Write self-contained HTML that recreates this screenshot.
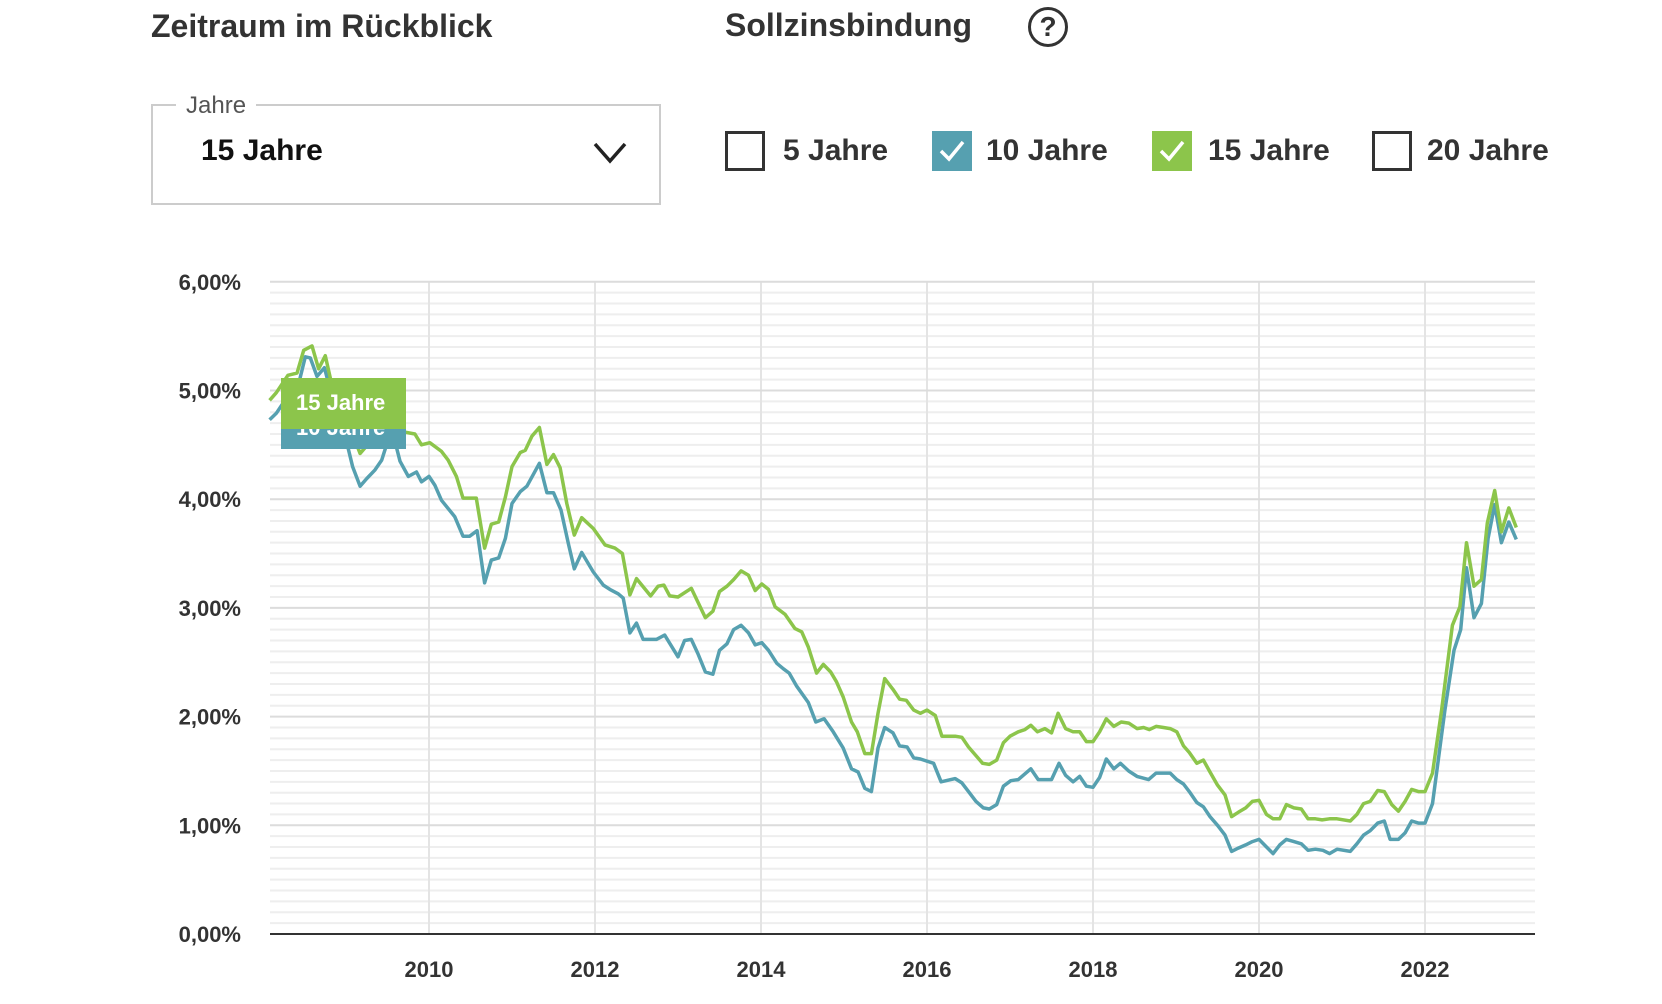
<!DOCTYPE html>
<html><head><meta charset="utf-8"><style>
html,body{margin:0;padding:0;background:#fff;width:1662px;height:1004px;overflow:hidden;font-family:"Liberation Sans",sans-serif;color:#333}
.abs{position:absolute}
.h{font-size:32px;font-weight:bold;color:#333}
.cb{width:34px;height:34px;border:3px solid #333;box-sizing:content-box}
.cbl{font-size:30px;font-weight:bold;color:#333}
</style></head><body>
<div class="abs h" style="left:151px;top:8px">Zeitraum im Rückblick</div>
<div class="abs h" style="left:725px;top:7px">Sollzinsbindung</div>
<div class="abs" style="left:1028px;top:7px;width:34px;height:34px;border:3px solid #333;border-radius:50%;text-align:center;font-size:28px;font-weight:bold;line-height:34px">?</div>

<div class="abs" style="left:151px;top:104px;width:506px;height:97px;border:2px solid #ccc"></div>
<div class="abs" style="left:176px;top:92px;padding:0 10px;background:#fff;font-size:24px;color:#555">Jahre</div>
<div class="abs" style="left:201px;top:134px;font-size:30px;font-weight:bold;color:#111">15 Jahre</div>
<svg class="abs" style="left:592px;top:140px" width="36" height="26"><polyline points="3,4 18,21 33,4" fill="none" stroke="#222" stroke-width="3.5"/></svg>

<div class="abs cb" style="left:725px;top:131px"></div>
<div class="abs cbl" style="left:783px;top:134px">5 Jahre</div>
<div class="abs" style="left:932px;top:131px;width:40px;height:40px;background:#56a0b0"><svg width="40" height="40"><polyline points="9,20 17,28 31,11" fill="none" stroke="#fff" stroke-width="3.5"/></svg></div>
<div class="abs cbl" style="left:986px;top:134px">10 Jahre</div>
<div class="abs" style="left:1152px;top:131px;width:40px;height:40px;background:#8cc54b"><svg width="40" height="40"><polyline points="9,20 17,28 31,11" fill="none" stroke="#fff" stroke-width="3.5"/></svg></div>
<div class="abs cbl" style="left:1208px;top:134px">15 Jahre</div>
<div class="abs cb" style="left:1372px;top:131px"></div>
<div class="abs cbl" style="left:1427px;top:134px">20 Jahre</div>

<svg id="chart" class="abs" style="left:0;top:0" width="1662" height="1004"></svg>

<script>
const yTicks=[0,1,2,3,4,5,6];
const yTickLabels=["0,00%","1,00%","2,00%","3,00%","4,00%","5,00%","6,00%"];
const xTicks=[2010,2012,2014,2016,2018,2020,2022];
const xTickLabels=["2010","2012","2014","2016","2018","2020","2022"];
const greenDates=[2008.08,2008.16,2008.30,2008.41,2008.49,2008.59,2008.67,2008.75,2008.83,2008.92,2009.0,2009.08,2009.17,2009.27,2009.4,2009.5,2009.6,2009.69,2009.83,2009.91,2010.01,2010.15,2010.23,2010.33,2010.41,2010.57,2010.67,2010.75,2010.84,2010.92,2011.00,2011.10,2011.16,2011.24,2011.33,2011.42,2011.50,2011.58,2011.66,2011.75,2011.84,2011.98,2012.12,2012.24,2012.33,2012.42,2012.50,2012.67,2012.76,2012.83,2012.90,2013.00,2013.16,2013.33,2013.42,2013.50,2013.59,2013.67,2013.76,2013.85,2013.93,2014.01,2014.09,2014.17,2014.29,2014.41,2014.49,2014.57,2014.67,2014.75,2014.84,2014.91,2014.99,2015.09,2015.16,2015.25,2015.33,2015.41,2015.49,2015.59,2015.67,2015.75,2015.84,2015.92,2016.00,2016.10,2016.18,2016.34,2016.42,2016.50,2016.58,2016.67,2016.75,2016.84,2016.92,2017.00,2017.10,2017.18,2017.25,2017.33,2017.42,2017.50,2017.58,2017.67,2017.76,2017.84,2017.92,2018.00,2018.08,2018.16,2018.25,2018.34,2018.43,2018.53,2018.61,2018.68,2018.76,2018.85,2018.93,2019.01,2019.09,2019.16,2019.25,2019.33,2019.41,2019.50,2019.59,2019.67,2019.75,2019.84,2019.92,2020.00,2020.09,2020.17,2020.25,2020.33,2020.42,2020.51,2020.59,2020.68,2020.76,2020.85,2020.94,2021.10,2021.18,2021.26,2021.34,2021.43,2021.51,2021.60,2021.68,2021.76,2021.84,2021.92,2022.00,2022.09,2022.20,2022.33,2022.42,2022.50,2022.59,2022.68,2022.75,2022.84,2022.92,2023.01,2023.10];
const greenValues=[4.91,4.98,5.14,5.16,5.37,5.41,5.20,5.32,5.05,4.9,4.75,4.6,4.42,4.51,4.6,4.68,4.62,4.62,4.60,4.50,4.52,4.44,4.36,4.21,4.01,4.01,3.55,3.77,3.79,4.02,4.30,4.43,4.45,4.58,4.66,4.32,4.41,4.29,3.96,3.67,3.83,3.73,3.58,3.55,3.50,3.12,3.27,3.11,3.20,3.21,3.11,3.10,3.18,2.91,2.97,3.15,3.20,3.26,3.34,3.30,3.16,3.22,3.17,3.01,2.94,2.81,2.78,2.64,2.40,2.48,2.41,2.32,2.18,1.95,1.86,1.66,1.66,2.03,2.35,2.25,2.16,2.15,2.06,2.03,2.06,2.01,1.82,1.82,1.81,1.72,1.65,1.57,1.56,1.60,1.76,1.82,1.86,1.88,1.92,1.86,1.89,1.85,2.03,1.89,1.86,1.86,1.77,1.77,1.86,1.98,1.91,1.95,1.94,1.89,1.90,1.88,1.91,1.90,1.89,1.86,1.73,1.67,1.57,1.60,1.49,1.37,1.28,1.08,1.12,1.16,1.22,1.23,1.10,1.06,1.06,1.19,1.16,1.15,1.06,1.06,1.05,1.06,1.06,1.04,1.10,1.20,1.22,1.32,1.31,1.19,1.13,1.22,1.33,1.31,1.31,1.48,2.06,2.84,3.01,3.60,3.20,3.26,3.78,4.08,3.70,3.92,3.74];
const blueDates=[2008.08,2008.16,2008.30,2008.41,2008.51,2008.57,2008.65,2008.74,2008.83,2008.92,2009.0,2009.08,2009.17,2009.25,2009.35,2009.43,2009.51,2009.56,2009.65,2009.75,2009.85,2009.91,2010.0,2010.07,2010.15,2010.31,2010.41,2010.49,2010.58,2010.67,2010.75,2010.84,2010.92,2011.00,2011.10,2011.18,2011.33,2011.42,2011.50,2011.59,2011.68,2011.75,2011.84,2011.98,2012.10,2012.18,2012.28,2012.34,2012.42,2012.50,2012.58,2012.74,2012.84,2013.00,2013.08,2013.16,2013.24,2013.33,2013.42,2013.50,2013.59,2013.67,2013.76,2013.85,2013.93,2014.01,2014.09,2014.19,2014.27,2014.34,2014.43,2014.57,2014.66,2014.76,2014.87,2014.99,2015.09,2015.17,2015.25,2015.33,2015.41,2015.49,2015.59,2015.67,2015.76,2015.84,2015.92,2016.08,2016.17,2016.34,2016.42,2016.50,2016.59,2016.68,2016.75,2016.84,2016.92,2017.01,2017.10,2017.25,2017.34,2017.50,2017.59,2017.67,2017.76,2017.84,2017.92,2018.00,2018.08,2018.16,2018.25,2018.33,2018.43,2018.53,2018.67,2018.76,2018.93,2019.01,2019.09,2019.17,2019.25,2019.33,2019.41,2019.50,2019.59,2019.67,2019.75,2019.84,2019.92,2020.00,2020.09,2020.17,2020.25,2020.33,2020.42,2020.51,2020.59,2020.68,2020.77,2020.85,2020.94,2021.10,2021.18,2021.26,2021.34,2021.43,2021.51,2021.58,2021.68,2021.76,2021.84,2021.92,2022.00,2022.09,2022.24,2022.35,2022.43,2022.50,2022.59,2022.68,2022.76,2022.84,2022.92,2023.01,2023.10];
const blueValues=[4.73,4.79,4.95,5.0,5.31,5.30,5.13,5.21,4.95,4.8,4.55,4.3,4.12,4.19,4.27,4.36,4.55,4.62,4.35,4.21,4.25,4.16,4.21,4.13,3.99,3.84,3.66,3.66,3.71,3.23,3.44,3.46,3.64,3.96,4.07,4.12,4.33,4.06,4.06,3.90,3.59,3.36,3.51,3.33,3.21,3.17,3.13,3.09,2.77,2.86,2.71,2.71,2.75,2.55,2.70,2.71,2.58,2.41,2.39,2.61,2.67,2.80,2.84,2.77,2.66,2.68,2.61,2.49,2.44,2.40,2.28,2.13,1.95,1.98,1.86,1.71,1.52,1.49,1.34,1.31,1.71,1.90,1.85,1.73,1.72,1.62,1.61,1.57,1.40,1.43,1.39,1.31,1.22,1.16,1.15,1.19,1.36,1.41,1.42,1.52,1.42,1.42,1.57,1.46,1.40,1.45,1.36,1.35,1.44,1.61,1.52,1.57,1.50,1.45,1.42,1.48,1.48,1.42,1.38,1.30,1.21,1.17,1.08,1.00,0.91,0.76,0.79,0.82,0.85,0.87,0.80,0.74,0.82,0.87,0.85,0.83,0.77,0.78,0.77,0.74,0.78,0.76,0.83,0.91,0.95,1.02,1.04,0.87,0.87,0.93,1.04,1.02,1.02,1.20,2.06,2.61,2.80,3.37,2.91,3.04,3.64,3.95,3.60,3.79,3.63];

const NS='http://www.w3.org/2000/svg';
const svg=document.getElementById('chart');
const X0=270,X1=1535;
function xs(yr){return 429+(yr-2010)*83;}
function ys(v){return 934-v*108.7;}
function mk(tag,attrs){const e=document.createElementNS(NS,tag);for(const k in attrs)e.setAttribute(k,attrs[k]);svg.appendChild(e);return e;}
for(let i=1;i<60;i++){
  const v=i/10; if(i%10===0) continue;
  const l=mk('line',{x1:X0,x2:X1,y1:ys(v),y2:ys(v),stroke:'#eeeeee','stroke-width':2});
  
  
}
xTicks.forEach((t,i)=>{
  const l=mk('line',{x1:xs(t),x2:xs(t),y1:ys(6),y2:ys(0),stroke:'#e4e4e4','stroke-width':2});
  
  
  const tx=mk('text',{x:xs(t),y:977,'text-anchor':'middle','font-size':22,'font-weight':'bold',fill:'#333','font-family':'Liberation Sans, sans-serif'});
  tx.textContent=xTickLabels[i];
  
  
});
yTicks.forEach((t,i)=>{
  if(t>0){const l=mk('line',{x1:X0,x2:X1,y1:ys(t),y2:ys(t),stroke:'#dcdcdc','stroke-width':2});
  
  }
  const tx=mk('text',{x:241,y:ys(t)+8,'text-anchor':'end','font-size':22,'font-weight':'bold',fill:'#333','font-family':'Liberation Sans, sans-serif'});
  tx.textContent=yTickLabels[i];
  
  
});
const ax=mk('line',{x1:X0,x2:X1,y1:ys(0),y2:ys(0),stroke:'#333','stroke-width':2});


function line(d,v,c,name){
  const p=d.map((t,i)=>xs(t).toFixed(1)+','+ys(v[i]).toFixed(1)).join(' ');
  const pl=mk('polyline',{points:p,fill:'none',stroke:c,'stroke-width':3.5,'stroke-linejoin':'round'});
  
  
}
line(blueDates,blueValues,'#56a0b0','series-10-jahre');
line(greenDates,greenValues,'#8cc54b','series-15-jahre');
</script>

<div class="abs" style="left:281px;top:395px;width:125px;height:54px;background:#56a0b0;overflow:hidden"><div style="position:absolute;left:15px;top:20px;color:#fff;font-size:22px;font-weight:bold">10 Jahre</div></div>
<div class="abs" style="left:281px;top:378px;width:125px;height:51px;background:#8cc54b"><div style="position:absolute;left:15px;top:12px;color:#fff;font-size:22px;font-weight:bold">15 Jahre</div></div>
</body></html>
